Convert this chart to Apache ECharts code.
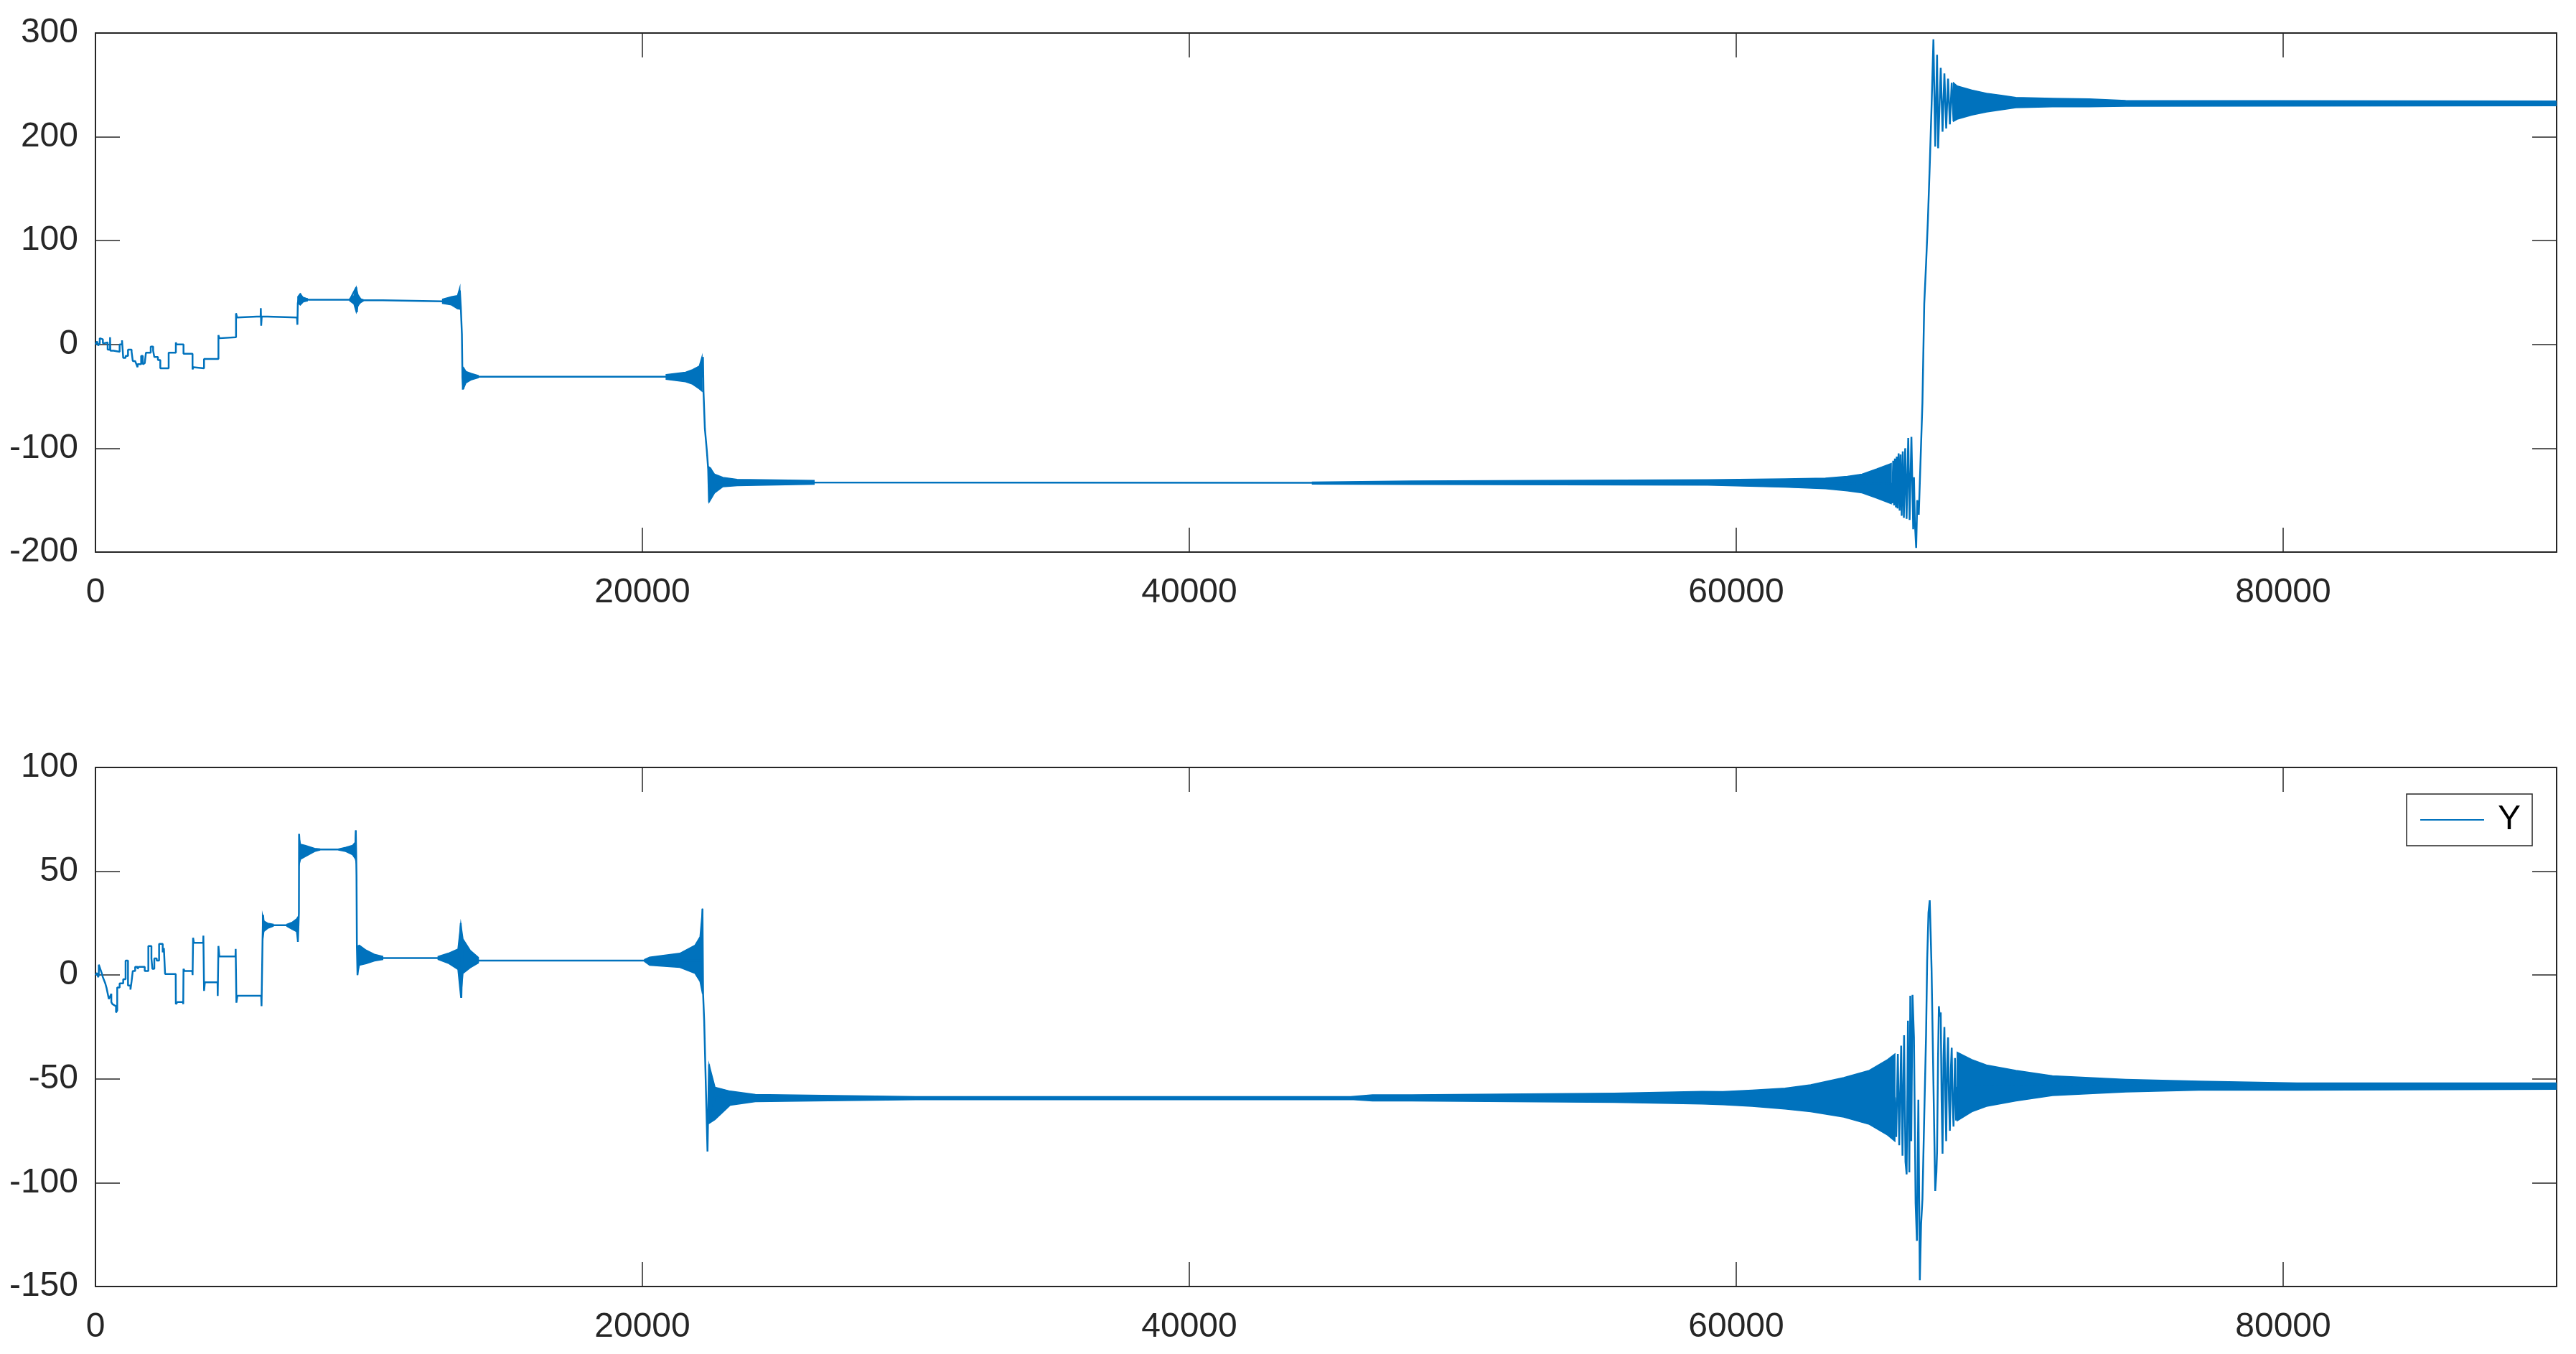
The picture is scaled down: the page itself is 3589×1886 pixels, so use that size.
<!DOCTYPE html>
<html>
<head>
<meta charset="utf-8">
<script src="https://cdn.jsdelivr.net/npm/echarts@6/dist/echarts.min.js"></script>
<style>
html,body{margin:0;padding:0;background:#fff;}
#chart{width:3589px;height:1886px;}
</style>
</head>
<body>
<div id="chart"></div>
<script>
// ---------- DATA ----------
const xTicks = [0, 20000, 40000, 60000, 80000];
const topYTicks = [-200, -100, 0, 100, 200, 300];
const botYTicks = [-150, -100, -50, 0, 50, 100];

// Top panel: main trace
const topX = [0,60,100,157,157,271,271,446,446,534,534,545,665,665,884,884,971,971,1015,1015,1102,1102,1190,1190,1321,1321,1365,1365,1452,1540,1540,1671,1671,1730,1730,1802,1846,1846,2021,2021,2109,2109,2152,2152,2284,2284,2371,2371,2677,2677,2940,2940,2960,3220,3220,3550,3550,3580,3970,3970,4497,4497,4530,5140,5140,5180,6040,6046,6060,6080,7370,7385,7400,7490,7520,7600,7800,9300,9537,9560,9600,9660,9800,10500,10520,12700,13300,13325,13360,13400,13420,13454,13500,14000,20800,22180,22216,22234,22285,22356,22406,22436,22486,22640,46000,58000,65670,
65700,65740,65770,65803,65840,65870,65900,65937,65975,66010,66050,66090,66130,66178,66230,66290,66340,66406,66472,66500,66530,66580,66620,66675,66741,66809,66875,66943,67009,67077,67143,67211,67277,67344,67384,67478,67544,67612,67678,67746,67812,67880,67946,68000,68080,90000];
const topY = [0,3,-1,1,6,5,1,2,-5,-5,7,-6,-6,-7,-7,0,0,4,3,-13,-13,-11,-11,-5,-5,-7,-7,-16,-16,-22,-19,-19,-11,-11,-19,-18,-18,-8,-8,-2,-2,-6,-6,-12,-12,-15,-15,-23,-23,-8,-8,2,0,0,-9,-9,-24,-22,-23,-14,-14,9,6,7,30,26,27,35,18,27,26,19,40,49,40,45,43,43,55,31,47,40,42.5,42.5,41.5,41.5,41.5,52,36,10,-32,-43,-27,-31,-31,-31,-12,-45,-81,-102,-120,-152,-119,-133,-133.2,-133.5,-134,
-153,-112,-155,-110,-157,-108,-158,-105,-160,-106,-165,-103,-167,-100,-168,-90,-169,-89,-178,-128,-170,-196,-150,-164,-111,-56,39,78,120,173,229.5,294,190.6,279,189,266.5,205,261,208,256,212,252,215,248,232,232];

// Top panel: envelopes of dense oscillation (null separates segments)
const topBandX  = [7400,7490,7600,7750,null,9300,9450,9537,9600,9700,9800,null,12692,13018,13236,13325,null,13420,13454,13550,13750,14000,null,20869,21578,21830,22080,22180,null,22436,22486,22640,22946,23466,26280,null,44500,48100,58960,61785,63260,64063,64599,65134,65670,null,67946,68080,68615,69150,69690,70225,71563,72902,74240,90000];
const topBandHi = [46,49,45,44,null,44,47,55,48,44,43,null,43.6,46,47,55,null,-22,-22,-26,-28,-30,null,-29,-26.7,-24.3,-20.9,-11.7,null,-118,-119,-125,-128,-130,-131,null,-132.6,-131.6,-130.4,-129.5,-128.8,-127,-125,-120,-114.6,null,252,249,245,242,240,238,237,236.5,235,234.5];
const topBandLo = [40,38,41,42,null,42,39,31,37,41,42,null,39.5,38,34.4,34,null,-43,-43,-37,-34,-32,null,-33.6,-35.9,-38.2,-42.8,-45,null,-152,-150,-143,-137,-136,-134.6,null,-134.5,-134.9,-135.5,-137.5,-139,-141,-143,-148,-153.4,null,215,217,221,224,226,228,229,229,229.5,230];

// Bottom panel: main trace (series "Y")
const botX = [0,60,100,122,122,228,228,271,271,359,359,402,402,490,490,534,534,580,580,621,621,752,752,796,796,884,884,1015,1015,1102,1102,1190,1190,1280,1280,1321,1321,1365,1365,1452,1452,1540,1540,1584,1584,1802,1802,1934,1934,2047,2047,2082,2082,2152,2152,2240,2240,2327,2327,2459,2459,2502,2502,2546,2546,2935,2940,3000,3202,3210,3220,3260,3540,3552,3570,3600,3940,3946,3972,4000,4465,4471,4497,4530,5120,5127,5154,5190,6060,6073,6108,6130,6160,7390,7402,7440,7446,7480,9500,9520,9546,9560,9583,9600,10505,12530,13300,13358,13380,13420,14003,20080,22180,22197,22220,22260,22381,22437,22500,22657,23211,45898,60000,65803,
65850,65910,65960,66031,66080,66138,66190,66231,66280,66330,66365,66400,66446,66499,66560,66607,66660,66714,66760,66809,66875,66942,66982,67030,67076,67110,67143,67210,67277,67320,67344,67380,67411,67440,67478,67510,67544,67580,67612,67650,67678,67710,67746,67780,67812,67850,67880,67910,67946,68000,68040,68080,90000];
const botY = [0,1,-1,0,5,1,1,-1,-1,-4,-4,-6,-6,-11.5,-11.5,-11,-11,-9,-13,-13,-14,-15,-18,-17,-6,-6,-4,-4,-2,-2,7,7,-5,-5,-7,-7,-3,-3,2,2,4,4,3,3,4,4,2,2,14,14,8,8,3,3,8,8,7,7,15,15,11,11,13,13,0.5,0.5,-14,-13,-13,-14,3,2,2,0,18,15.5,15.5,19,-7.6,-3.5,-3.5,-10,14,9,9,12.6,-13.3,-10,-10,-15,15,29,24,24,16,30,68,60.5,60.5,69.7,48,14,0,12,8.2,8.2,9,25,-11,14,7,7,7,32,-9,-22,-85,-43,-70,-58,-59,-59.2,-59,-59,
-78,-38,-82,-34,-87,-29,-90,-96,-22,-95,-10,-80,-9.5,-30,-110,-128,-60,-147,-120,-108,-68,-29,7,30,36,20,3,-51,-104,-95,-85,-40,-15,-20,-18,-60,-86,-40,-25,-60,-80,-45,-30,-60,-75,-45,-35,-60,-73,-40,-70,-54,-53.5];

// Bottom panel: envelopes of dense oscillation
const botBandX  = [6108,6160,6300,6500,null,7000,7200,7350,7402,null,7446,7500,7665,8015,8200,null,8900,9152,9400,9502,9520,null,9583,9650,9900,10200,10505,null,12530,12900,13255,13358,13440,13700,14003,null,20080,20265,21370,21923,22107,22197,null,22437,22657,23211,24132,30000,45898,46700,48120,55537,58753,59509,60580,61785,62722,63929,64866,65536,65803,null,68080,68615,69150,70225,71563,72902,74240,76920,80510,90000];
const botBandHi = [29,26,25,24.5,null,24.5,25.5,27,28,null,66,63,62.5,61,60.8,null,60.8,61.5,62.5,64,69.7,null,14,14.4,12,10,9,null,9,10.5,12.5,25,17.4,12,8.5,null,7.5,8.6,10.5,14.4,18.4,32,null,-43,-54,-55.9,-57.5,-58.5,-58.5,-57.7,-57.7,-56.9,-56,-56.1,-55.4,-54.5,-52.8,-49.4,-45.9,-40.7,-38,null,-37.2,-40.7,-43.3,-45.9,-48.5,-49.4,-50.2,-51.1,-52,-52];
const botBandLo = [16,21,22.5,23.5,null,23.5,22,21,16,null,53,55.8,57,59.5,60.2,null,60.2,59.5,58,56,55,null,0,4.7,5.5,6.8,7.5,null,7.5,5.7,2.7,-10.9,0.8,3.5,5.8,null,6.5,4.7,3.7,0.8,-3.1,-9,null,-71.5,-69.6,-62.7,-61,-60,-59.9,-60.6,-60.6,-61.3,-62.1,-62.4,-63.2,-64.5,-65.8,-68.4,-71.9,-77.1,-80,null,-70.2,-65.8,-63.2,-60.6,-58,-57.2,-56.3,-55.4,-55.4,-55];

// ---------- CHART ----------
const COLOR = '#0072BD';
const AX = '#262626';
const FONT = '"Liberation Sans", Arial, Helvetica, sans-serif';
const FS = 48;

function pairs(xs, ys) { return xs.map((x, i) => [x, ys[i]]); }

function bandSeries(name, bx, bhi, blo, axisIdx) {
  const segs = []; let cur = null;
  for (let i = 0; i < bx.length; i++) {
    if (bx[i] === null) { cur = null; continue; }
    if (!cur) { cur = []; segs.push(cur); }
    cur.push(i);
  }
  return {
    type: 'custom', name: name, xAxisIndex: axisIdx, yAxisIndex: axisIdx,
    silent: true, clip: true, z: 3, animation: false,
    data: segs.map((s, k) => [bx[s[0]], bhi[s[0]], k]),
    encode: { x: 0, y: 1 },
    renderItem: function (params, api) {
      const s = segs[api.value(2)];
      const pts = [];
      s.forEach(i => pts.push(api.coord([bx[i], bhi[i]])));
      for (let j = s.length - 1; j >= 0; j--) pts.push(api.coord([bx[s[j]], blo[s[j]]]));
      return { type: 'polygon', shape: { points: pts }, style: { fill: COLOR, stroke: COLOR, lineWidth: 1.5 } };
    }
  };
}

function xAxisPair(gridIdx) {
  const common = {
    type: 'value', gridIndex: gridIdx, min: 0, max: 90000, interval: 20000,
    splitLine: { show: false },
    axisLine: { show: true, onZero: false, lineStyle: { color: AX, width: 2 } },
    axisTick: { show: true, inside: true, length: 34, lineStyle: { color: AX, width: 1.5 } }
  };
  return [
    Object.assign({}, common, { position: 'bottom',
      axisLabel: { show: true, fontSize: FS, color: AX, fontFamily: FONT, margin: 33, showMaxLabel: false,
        formatter: v => xTicks.indexOf(v) >= 0 ? String(v) : '' } }),
    Object.assign({}, common, { position: 'top', axisLabel: { show: false } })
  ];
}
function yAxisPair(gridIdx, ticks) {
  const common = {
    type: 'value', gridIndex: gridIdx, min: ticks[0], max: ticks[ticks.length - 1],
    interval: ticks[1] - ticks[0],
    splitLine: { show: false },
    axisLine: { show: true, onZero: false, lineStyle: { color: AX, width: 2 } },
    axisTick: { show: true, inside: true, length: 34, lineStyle: { color: AX, width: 1.5 } }
  };
  return [
    Object.assign({}, common, { position: 'left',
      axisLabel: { show: true, fontSize: FS, color: AX, fontFamily: FONT, margin: 24 } }),
    Object.assign({}, common, { position: 'right', axisLabel: { show: false } })
  ];
}

const tx = xAxisPair(0), bxA = xAxisPair(1);
const ty = yAxisPair(0, topYTicks), byA = yAxisPair(1, botYTicks);

const chart = echarts.init(document.getElementById('chart'), null, { renderer: 'canvas' });
chart.setOption({
  animation: false,
  backgroundColor: '#ffffff',
  grid: [
    { left: 133, top: 46, width: 3429, height: 723, containLabel: false },
    { left: 133, top: 1069, width: 3429, height: 723, containLabel: false }
  ],
  // axis order: 0 top-bottom, 1 top-top, 2 bottom-bottom, 3 bottom-top
  xAxis: [tx[0], tx[1], bxA[0], bxA[1]],
  yAxis: [ty[0], ty[1], byA[0], byA[1]],
  legend: {
    data: ['Y'], left: 3353, top: 1106, orient: 'horizontal',
    padding: [12, 16, 12, 19], itemWidth: 89, itemHeight: 2, icon: 'rect', itemGap: 0,
    borderColor: AX, borderWidth: 1.5, backgroundColor: '#ffffff',
    textStyle: { fontSize: FS, color: '#000000', fontFamily: FONT, padding: [0, 0, 0, 14] }
  },
  series: [
    { type: 'line', name: 'X', xAxisIndex: 0, yAxisIndex: 0, data: pairs(topX, topY),
      symbol: 'none', showSymbol: false, sampling: null, clip: true, z: 4,
      lineStyle: { color: COLOR, width: 2.5 }, itemStyle: { color: COLOR } },
    bandSeries('X band', topBandX, topBandHi, topBandLo, 0),
    { type: 'line', name: 'Y', xAxisIndex: 2, yAxisIndex: 2, data: pairs(botX, botY),
      symbol: 'none', showSymbol: false, sampling: null, clip: true, z: 4,
      lineStyle: { color: COLOR, width: 2.5 }, itemStyle: { color: COLOR } },
    bandSeries('Y band', botBandX, botBandHi, botBandLo, 2)
  ]
});
</script>
</body>
</html>
